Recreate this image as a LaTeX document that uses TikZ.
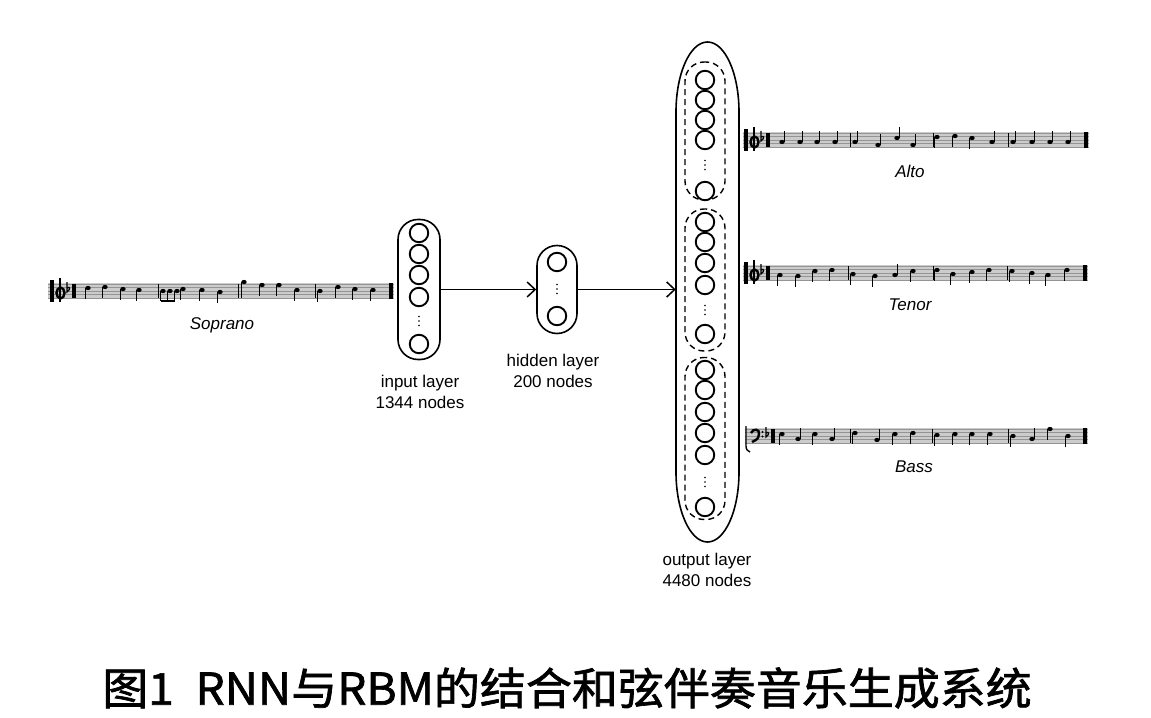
\documentclass[tikz,border=0pt]{standalone}
\usepackage{fontspec}
\setmainfont{Liberation Sans}
\newfontfamily\cjk{Noto Sans CJK SC}[FakeBold=1.5]
\usetikzlibrary{arrows.meta}
\definecolor{staffbg}{gray}{0.80}
\definecolor{staffln}{gray}{0.58}

\newcommand\mystaff[6]{% x0 x1 yc notes bars endbar
  \fill[staffbg] (#1,{#3-8}) rectangle (#2,{#3+8});
  \foreach \k in {-2,...,2} \draw[staffln,line width=0.5bp] (#1,{#3+3.5*\k}) -- (#2,{#3+3.5*\k});
  \foreach \b in {#5} \draw[line width=1bp] (\b,{#3-7}) -- (\b,{#3+7});
  \fill ({#6-2},{#3-8}) rectangle ({#6+2},{#3+8});
  \foreach \nx/\no/\nd in {#4} {
    \fill (\nx,{#3-(\no)}) ellipse [x radius=2.7bp, y radius=2.1bp];
    \draw[line width=1bp] ({\nx+2.3*(\nd)},{#3-(\no)}) -- ({\nx+2.3*(\nd)},{#3-(\no)-11*(\nd)});
  }
}
\newcommand\trebleclef[2]{%
  \fill (#1,{#2-11}) rectangle ({#1+4},{#2+11});
  \draw[line width=2.4bp] ({#1+10},{#2+11}) -- ({#1+10},{#2-13});
  \draw[line width=2.4bp] ({#1+10.5},{#2+2}) ellipse [x radius=4bp,y radius=5.5bp];
  \draw[line width=1.2bp] ({#1+17},{#2-9}) -- ({#1+17},{#2+1}) .. controls ({#1+21},{#2-2}) and ({#1+20},{#2-5}) .. ({#1+17},{#2-3});
  \fill ({#1+22},{#2-7}) rectangle ({#1+26},{#2+7});
}
\newcommand\bassclef[2]{%
  \draw[line width=1.4bp] (#1,{#2-10}) -- (#1,{#2+10}) .. controls (#1,{#2+14}) and ({#1+2},{#2+15}) .. ({#1+4},{#2+16});
  \draw[line width=2.4bp] ({#1+5},{#2-3}) .. controls ({#1+7},{#2-8}) and ({#1+14},{#2-7}) .. ({#1+13},{#2-2}) .. controls ({#1+12},{#2+3}) .. ({#1+6},{#2+6});
  \fill ({#1+16.5},{#2-4}) circle (1.2bp);
  \fill ({#1+16.5},{#2+0.5}) circle (1.2bp);
  \draw[line width=1.2bp] ({#1+20},{#2-9}) -- ({#1+20},{#2+1}) .. controls ({#1+24},{#2-2}) and ({#1+23},{#2-5}) .. ({#1+20},{#2-3});
  \fill ({#1+25},{#2-7}) rectangle ({#1+29},{#2+7});
}
\newcommand\vdotsat[2]{%
  \fill (#1,{#2-4.5}) circle (0.9bp);
  \fill (#1,#2) circle (0.9bp);
  \fill (#1,{#2+4.5}) circle (0.9bp);
}

\begin{document}
\begin{tikzpicture}[x=1bp,y=-1bp,
  neuron/.style={circle,draw,line width=1.9bp,minimum size=18.5bp,inner sep=0pt},
  layerbox/.style={draw,line width=1.6bp,rounded corners=20bp,inner sep=0pt},
  groupbox/.style={draw,dash pattern=on 6bp off 4bp,line width=1.4bp,rounded corners=19bp,inner sep=0pt,minimum width=40bp},
  lbl/.style={font=\fontsize{17bp}{21bp}\selectfont,align=center,inner sep=0pt},
  ilbl/.style={font=\fontsize{17bp}{21bp}\selectfont\itshape,inner sep=0pt},
  conn/.style={line width=1.5bp,-{Straight Barb[length=8bp,width=15bp,line width=1.5bp]}},
]
\useasboundingbox (0,0) rectangle (1151,718);
\fill[white] (0,0) rectangle (1151,718);

% ---------- staves ----------
\mystaff{48}{394}{291}{88/3/-1, 105/4/-1, 123/2/-1, 139/1/-1, 183/2/-1, 202/1/-1, 220/-1/-1, 244/9/-1, 262/6/-1, 279/6/-1, 297/1/-1, 320/0/-1, 338/4/-1, 355/2/-1, 373/1/-1}{158,238,241,315}{391}
\foreach \nx in {163,170,177} {
  \fill (\nx,291) ellipse [x radius=2.7bp, y radius=2.1bp];
  \draw[line width=1bp] ({\nx-2.3},291) -- ({\nx-2.3},301);
}
\draw[line width=1.8bp] (160.7,301) -- (174.7,301);
\trebleclef{50}{291}

\mystaff{743}{1089}{140}{782/-2/1, 800/-2/1, 817/-2/1, 835/-2/1, 855/-2/1, 878/-5/1, 897/2/1, 913/-5/1, 937/3/-1, 955/4/-1, 972/2/-1, 992/-2/1, 1013/-2/1, 1032/-2/1, 1050/-2/1, 1068/-2/1}{850,933,1008}{1086}
\trebleclef{744}{140}

\mystaff{743}{1088}{273}{780/-2/-1, 798/-3/-1, 815/2/-1, 832/3/-1, 853/-1/-1, 875/-3/-1, 895/-2/1, 913/2/-1, 937/3/-1, 953/-1/-1, 972/1/-1, 989/3/-1, 1012/2/-1, 1032/0/-1, 1048/-2/-1, 1067/3/-1}{848,933,1007}{1085}
\trebleclef{744}{273}

\mystaff{745}{1088}{436}{782/2/-1, 798/-3/1, 815/2/-1, 832/-3/1, 855/3/-1, 877/-4/1, 895/2/-1, 913/3/-1, 937/1/-1, 955/2/-1, 972/2/-1, 990/2/-1, 1013/0/-1, 1032/-3/1, 1050/7/-1, 1068/0/-1}{850,932,1008}{1085}
\bassclef{746}{436}

\node[ilbl] (sop) at (222,325) {Soprano};
\node[ilbl] (alto) at (910,171) {Alto};
\node[ilbl] (ten) at (910,305) {Tenor};
\node[ilbl] (bass) at (914,467) {Bass};

% ---------- input layer ----------
\node[layerbox,minimum width=42bp,minimum height=140bp] (inbox) at (419,289.5) {};
\node[neuron] (i1) at (419,233) {};
\node[neuron] (i2) at (419,254) {};
\node[neuron] (i3) at (419,275) {};
\node[neuron] (i4) at (419,297) {};
\vdotsat{419}{321}
\node[neuron] (i5) at (419,344) {};
\node[lbl] (inlbl) at (420,391.5) {input layer\\1344 nodes};

% ---------- hidden layer ----------
\node[layerbox,minimum width=40bp,minimum height=88bp] (hid) at (557,289.5) {};
\node[neuron] (h1) at (557,262) {};
\vdotsat{557}{289}
\node[neuron] (h2) at (557,316) {};
\node[lbl] (hidlbl) at (553,370.5) {hidden layer\\200 nodes};

% ---------- output layer ----------
\node[minimum width=63bp,minimum height=502bp,inner sep=0pt] (outbox) at (707.5,291) {};
\draw[line width=1.6bp] (676,112) arc[start angle=180,end angle=0,x radius=31.5bp,y radius=70bp]
  -- (739,472) arc[start angle=0,end angle=-180,x radius=31.5bp,y radius=70bp] -- cycle;

\node[groupbox,minimum height=138bp] (g1) at (705,131) {};
\node[groupbox,minimum height=142bp] (g2) at (705,280) {};
\node[groupbox,minimum height=162bp] (g3) at (705,438.5) {};

\node[neuron] (o1) at (705,80) {};
\node[neuron] (o2) at (705,100) {};
\node[neuron] (o3) at (705,120) {};
\node[neuron] (o4) at (705,140) {};
\vdotsat{705}{165}
\node[neuron] (o5) at (705,191) {};

\node[neuron] (o6) at (705,222) {};
\node[neuron] (o7) at (705,242) {};
\node[neuron] (o8) at (705,263) {};
\node[neuron] (o9) at (705,285) {};
\vdotsat{705}{310}
\node[neuron] (o10) at (705,334) {};

\node[neuron] (o11) at (705,370) {};
\node[neuron] (o12) at (705,390) {};
\node[neuron] (o13) at (705,412) {};
\node[neuron] (o14) at (705,433) {};
\node[neuron] (o15) at (705,455) {};
\vdotsat{705}{482}
\node[neuron] (o16) at (705,507) {};

\node[lbl] (outlbl) at (707,570) {output layer\\4480 nodes};

% ---------- connectors ----------
\draw[conn] (inbox.east) -- (hid.west);
\draw[conn] (hid.east) -- (hid.east -| outbox.west);

% ---------- caption ----------
\node[font=\cjk\fontsize{44bp}{44bp}\selectfont,inner sep=0pt] (cap) at (567,688) {\scalebox{1.045}[1]{图1\hspace{0.25em} RNN与RBM的结合和弦伴奏音乐生成系统}};
\end{tikzpicture}
\end{document}
